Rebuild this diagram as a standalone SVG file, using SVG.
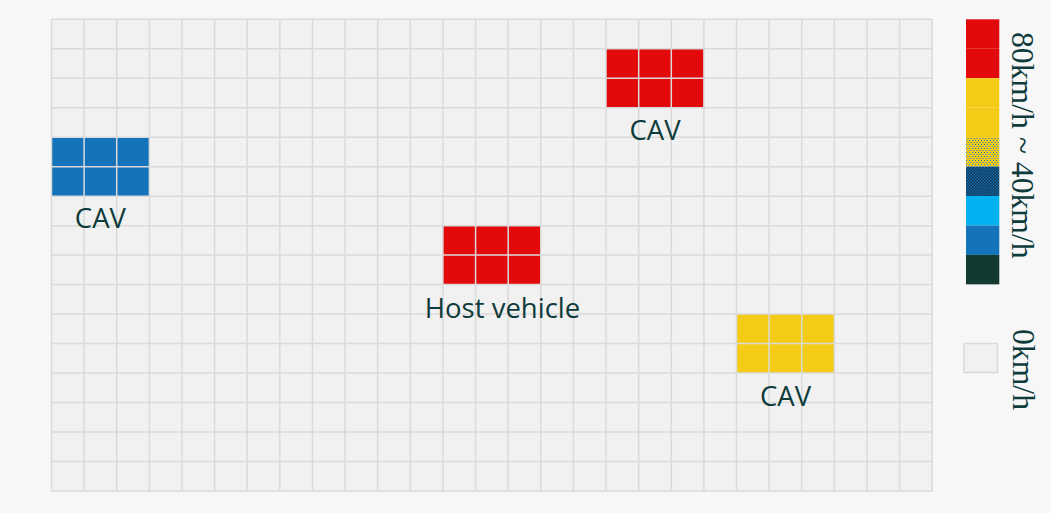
<svg xmlns="http://www.w3.org/2000/svg" width="1051" height="513" viewBox="0 0 1051 513">
<defs>
<style>
.lbl{font-family:"Open Sans","Liberation Sans",sans-serif;font-size:27.5px;fill:#0e3b3b;text-anchor:middle}
.leg{font-family:"Liberation Serif","Times New Roman",serif;font-size:31.7px;fill:#0e3b3b}
.grid{fill:none;stroke:#dadada;stroke-width:1.5}
.red{fill:#e20a0a}
.yel{fill:#f4cb16}
.blu{fill:#1473ba}
</style>
<pattern id="pYel" width="3" height="4" patternUnits="userSpaceOnUse">
<rect width="3" height="4" fill="#f4cb16"/>
<rect x="0" y="0" width="1" height="1" fill="#1f78c0"/>
<rect x="1.5" y="2" width="1" height="1" fill="#1f78c0"/>
</pattern>
<pattern id="pDark" width="3" height="3" patternUnits="userSpaceOnUse">
<rect width="3" height="3" fill="#1768aa"/>
<rect x="0" y="0" width="1.5" height="1.5" fill="#0d3550"/>
<rect x="1.5" y="1.5" width="1.5" height="1.5" fill="#0d3550"/>
</pattern>
</defs>
<rect width="1051" height="513" fill="#f7f7f7"/>
<g id="grid">
<rect x="51.5" y="19.3" width="880.8" height="471.7" fill="#f1f1f1"/>
</g>
<g id="cav-blue">
<rect class="blu" x="51.5" y="137.2" width="97.9" height="58.96"/>
</g>
<g id="cav-red-top">
<rect class="red" x="606.0" y="48.8" width="97.9" height="58.96"/>
</g>
<g id="host-vehicle">
<rect class="red" x="442.9" y="225.7" width="97.9" height="58.96"/>
</g>
<g id="cav-yellow">
<rect class="yel" x="736.5" y="314.1" width="97.9" height="58.96"/>
</g>
<g id="gridlines">
<path class="grid" d="M51.5 19.3V491M84.1 19.3V491M116.7 19.3V491M149.4 19.3V491M182 19.3V491M214.6 19.3V491M247.2 19.3V491M279.8 19.3V491M312.5 19.3V491M345.1 19.3V491M377.7 19.3V491M410.3 19.3V491M442.9 19.3V491M475.6 19.3V491M508.2 19.3V491M540.8 19.3V491M573.4 19.3V491M606 19.3V491M638.7 19.3V491M671.3 19.3V491M703.9 19.3V491M736.5 19.3V491M769.1 19.3V491M801.8 19.3V491M834.4 19.3V491M867 19.3V491M899.6 19.3V491M932.2 19.3V491"/>
<path class="grid" d="M51.5 19.3H932.2M51.5 48.8H932.2M51.5 78.3H932.2M51.5 107.7H932.2M51.5 137.2H932.2M51.5 166.7H932.2M51.5 196.2H932.2M51.5 225.7H932.2M51.5 255.1H932.2M51.5 284.6H932.2M51.5 314.1H932.2M51.5 343.6H932.2M51.5 373.1H932.2M51.5 402.5H932.2M51.5 432H932.2M51.5 461.5H932.2M51.5 491H932.2"/>
</g>
<g id="labels">
<text class="lbl" x="100.4" y="227.5">CAV</text>
<text class="lbl" x="655" y="140">CAV</text>
<text class="lbl" x="502.5" y="318.3">Host vehicle</text>
<text class="lbl" x="785.5" y="406">CAV</text>
</g>
<g id="legend">
<rect class="red" x="966" y="19.3" width="33.3" height="29.45"/>
<rect class="red" x="966" y="48.75" width="33.3" height="29.45"/>
<rect class="yel" x="966" y="78.2" width="33.3" height="29.45"/>
<rect class="yel" x="966" y="107.65" width="33.3" height="29.45"/>
<rect fill="url(#pYel)" x="966" y="137.1" width="33.3" height="29.45"/>
<rect fill="url(#pDark)" x="966" y="166.55" width="33.3" height="29.45"/>
<rect fill="#00b3f0" x="966" y="196" width="33.3" height="29.45"/>
<rect class="blu" x="966" y="225.45" width="33.3" height="29.45"/>
<rect fill="#123a30" x="966" y="254.9" width="33.3" height="29.45"/>
<rect x="964" y="343.5" width="33.5" height="29" fill="#f1f1f1" stroke="#d9d9d9" stroke-width="1.5"/>
<text class="leg" transform="translate(1012,32) rotate(90)">80km/h ~ 40km/h</text>
<text class="leg" transform="translate(1013,329) rotate(90)">0km/h</text>
</g>
</svg>
